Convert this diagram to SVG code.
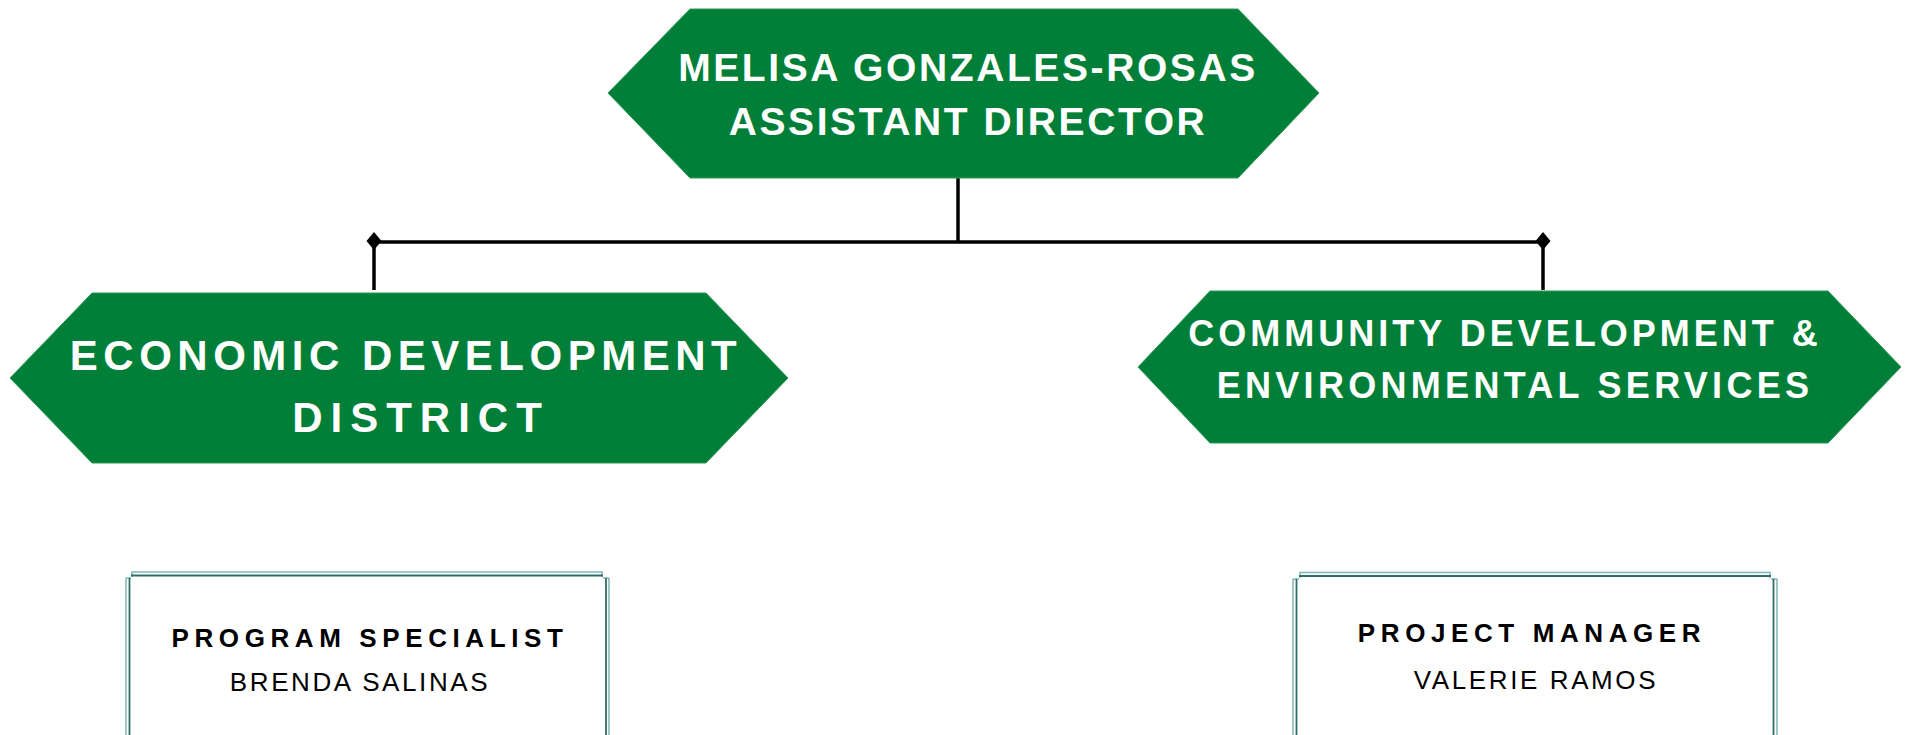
<svg xmlns="http://www.w3.org/2000/svg" width="1908" height="735" viewBox="0 0 1908 735">
<style>
.hex{fill:#017f38;stroke:#2f9a5a;stroke-width:1}
.ht{fill:#ffffff;font-family:"Liberation Sans",Arial,sans-serif;font-weight:bold;text-anchor:middle}
.conn{stroke:#000;stroke-width:3.5;fill:none}
.dia{fill:#000}
.lt{stroke:#7fb5b3;stroke-width:1.5;fill:none}
.dk{stroke:#2c6e6c;stroke-width:1.8;fill:none}
.bt{fill:#000;font-family:"Liberation Sans",Arial,sans-serif;font-size:26px;font-weight:bold;letter-spacing:5.6px;text-anchor:middle}
.nt{fill:#000;font-family:"Liberation Sans",Arial,sans-serif;font-size:26px;letter-spacing:2.6px;text-anchor:middle}
</style>
<g id="connectors">
<line class="conn" x1="958" y1="178" x2="958" y2="242"/>
<line class="conn" x1="374" y1="242" x2="1543" y2="242"/>
<line class="conn" x1="374" y1="242" x2="374" y2="290"/>
<line class="conn" x1="1543" y1="242" x2="1543" y2="290"/>
<polygon class="dia" points="374,232 381.5,241 374,250 366.5,241"/>
<polygon class="dia" points="1543,232 1550.5,241 1543,250 1535.5,241"/>
</g>
<g id="node-director">
<polygon class="hex" points="690,9 1238,9 1319,93 1238,178 690,178 608,93"/>
<text class="ht" x="968" y="81" font-size="39" letter-spacing="2.6">MELISA GONZALES-ROSAS</text>
<text class="ht" x="968" y="135" font-size="39" letter-spacing="2.6">ASSISTANT DIRECTOR</text>
</g>
<g id="node-economic">
<polygon class="hex" points="92,293 706,293 788,378 706,463 92,463 10,378"/>
<text class="ht" x="406" y="370" font-size="42" letter-spacing="5.5">ECONOMIC DEVELOPMENT</text>
<text class="ht" x="421" y="432" font-size="42" letter-spacing="8">DISTRICT</text>
</g>
<g id="node-community">
<polygon class="hex" points="1210,291 1828,291 1901,367 1828,443 1210,443 1138,367"/>
<text class="ht" x="1505" y="346" font-size="36" letter-spacing="4">COMMUNITY DEVELOPMENT &amp;</text>
<text class="ht" x="1515" y="398" font-size="36" letter-spacing="4.3">ENVIRONMENTAL SERVICES</text>
</g>
<g id="node-program-specialist">
<path class="lt" d="M132,577 V572 H602 V577 M126,578 H131 M126,578 V740 M609,578 V740 M603,578 H609"/>
<path class="dk" d="M131,575.5 H603 M129.5,578 V740 M606,578 V740"/>
<text class="bt" x="370" y="647">PROGRAM SPECIALIST</text>
<text class="nt" x="360" y="691">BRENDA SALINAS</text>
</g>
<g id="node-project-manager">
<path class="lt" d="M1300,578 V572.5 H1770 V578 M1293,579 H1299 M1293,579 V740 M1777,579 V740 M1771,579 H1777"/>
<path class="dk" d="M1299,576 H1771 M1296.5,579 V740 M1773.5,579 V740"/>
<text class="bt" x="1532" y="642">PROJECT MANAGER</text>
<text class="nt" x="1536" y="689">VALERIE RAMOS</text>
</g>
</svg>
